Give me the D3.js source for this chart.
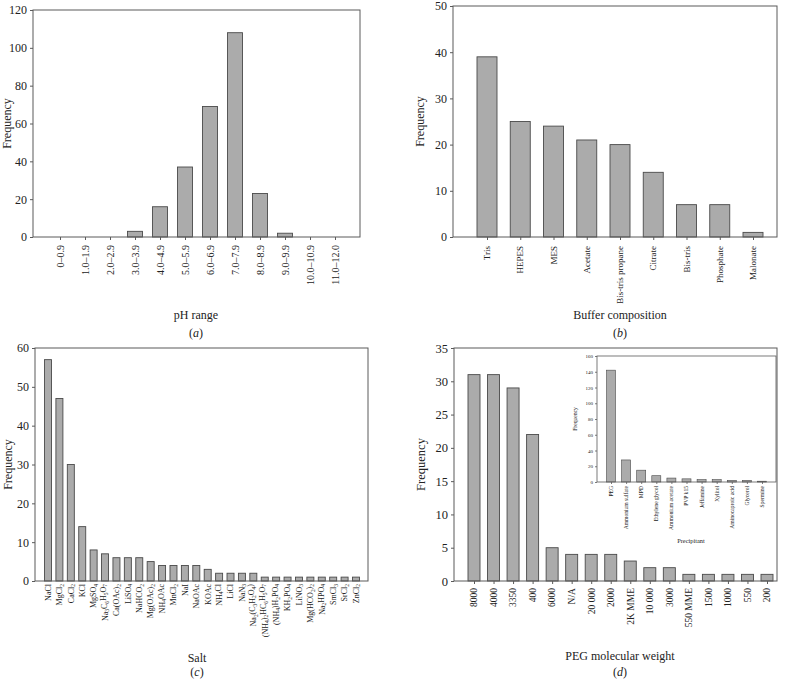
<!DOCTYPE html>
<html>
<head>
<meta charset="utf-8">
<script src="https://cdn.jsdelivr.net/npm/d3@7"></script>
<style>
  html, body { margin: 0; padding: 0; background: #fff; }
  svg { display: block; font-family: "Liberation Serif", "Times New Roman", serif; }
</style>
</head>
<body>
<svg id="chart" width="787" height="680"></svg>
<script>
// ---------- DATA ----------
const phCategories = ["0–0.9", "1.0–1.9", "2.0–2.9", "3.0–3.9", "4.0–4.9", "5.0–5.9", "6.0–6.9", "7.0–7.9", "8.0–8.9", "9.0–9.9", "10.0–10.9", "11.0–12.0"];
const phValues = [0, 0, 0, 3, 16, 37, 69, 108, 23, 2, 0, 0];
const phTicks = [0, 20, 40, 60, 80, 100, 120];

const bufferCategories = ["Tris", "HEPES", "MES", "Acetate", "Bis-tris propane", "Citrate", "Bis-tris", "Phosphate", "Malonate"];
const bufferValues = [39, 25, 24, 21, 20, 14, 7, 7, 1];
const bufferTicks = [0, 10, 20, 30, 40, 50];

// "_n" marks a subscript
const saltCategories = ["NaCl", "MgCl_2", "CaCl_2", "KCl", "MgSO_4", "Na_3C_6H_5O_7", "Ca(OAc)_2", "LiSO_4", "NaHCO_2", "Mg(OAc)_2", "NH_4OAc", "MnCl_2", "NaI", "NaOAc", "KOAc", "NH_4Cl", "LiCl", "NaN_3", "Na_2(C_3H_2O_4)", "(NH_4)_2HC_6H_5O_7", "(NH_4)H_2PO_4", "KH_2PO_4", "LiNO_3", "Mg(HCO_2)_2", "Na_2HPO_4", "SmCl_3", "SrCl_2", "ZnCl_2"];
const saltValues = [57, 47, 30, 14, 8, 7, 6, 6, 6, 5, 4, 4, 4, 4, 3, 2, 2, 2, 2, 1, 1, 1, 1, 1, 1, 1, 1, 1];
const saltTicks = [0, 10, 20, 30, 40, 50, 60];

const pegCategories = ["8000", "4000", "3350", "400", "6000", "N/A", "20 000", "2000", "2K MME", "10 000", "3000", "550 MME", "1500", "1000", "550", "200"];
const pegValues = [31, 31, 29, 22, 5, 4, 4, 4, 3, 2, 2, 1, 1, 1, 1, 1];
const pegTicks = [0, 5, 10, 15, 20, 25, 30, 35];

const precipCategories = ["PEG", "Ammonium sulfate", "MPD", "Ethylene glycol", "Ammonium acetate", "PVP k15", "Jeffamine", "Xylitol", "Aminocaproic acid", "Glycerol", "Spermine"];
const precipValues = [142, 28, 15, 8, 5, 4, 3, 3, 2, 2, 1];
const precipTicks = [0, 20, 40, 60, 80, 100, 120, 140, 160];

// ---------- DRAWING ----------
const svg = d3.select("#chart");
const BAR_FILL = "#ababab", BAR_STROKE = "#4a4a4a", FRAME = "#5a5a5a", TEXT = "#222";

function addRich(textSel, label, subSize) {
  const parts = label.split(/_(\d+)/);
  let sub = false;
  parts.forEach((p, i) => {
    if (p === "") return;
    const isSub = i % 2 === 1;
    const t = textSel.append("tspan").text(p);
    if (isSub) {
      t.attr("font-size", subSize).attr("dy", sub ? 0 : "0.28em");
      sub = true;
    } else if (sub) {
      t.attr("dy", "-0.28em");
      sub = false;
    }
  });
}

function panel(cfg) {
  const g = svg.append("g");
  const x = d3.scalePoint().domain(cfg.categories).range(cfg.centers);
  const y = d3.scaleLinear().domain([0, cfg.yMax]).range([cfg.box.y1, cfg.box.y0]);

  if (cfg.background) {
    g.append("rect").attr("x", cfg.box.x0).attr("y", cfg.box.y0)
      .attr("width", cfg.box.x1 - cfg.box.x0).attr("height", cfg.box.y1 - cfg.box.y0)
      .attr("fill", "#fff");
  }

  // bars
  g.append("g").selectAll("rect").data(cfg.values).join("rect")
    .attr("x", (d, i) => x(cfg.categories[i]) - cfg.barW / 2)
    .attr("width", cfg.barW)
    .attr("y", d => y(d))
    .attr("height", d => y(0) - y(d))
    .attr("fill", BAR_FILL)
    .attr("stroke", d => d > 0 ? BAR_STROKE : "none")
    .attr("stroke-width", cfg.barStroke || 0.9);

  // frame
  g.append("rect").attr("x", cfg.box.x0).attr("y", cfg.box.y0)
    .attr("width", cfg.box.x1 - cfg.box.x0).attr("height", cfg.box.y1 - cfg.box.y0)
    .attr("fill", "none").attr("stroke", FRAME).attr("stroke-width", cfg.frameW || 1);

  // y axis
  const ya = g.append("g").attr("transform", `translate(${cfg.box.x0},0)`)
    .call(d3.axisLeft(y).tickValues(cfg.ticks).tickSize(cfg.tickLen).tickPadding(cfg.tickPad).tickFormat(d3.format("d")));
  ya.select(".domain").remove();
  ya.selectAll("line").attr("stroke", FRAME).attr("stroke-width", cfg.frameW || 1);
  ya.selectAll("text").attr("font-size", cfg.tickFont).attr("fill", TEXT)
    .attr("font-family", "Liberation Serif, serif");

  // x ticks
  if (cfg.xTickLen > 0) {
    const xa = g.append("g").attr("transform", `translate(0,${cfg.box.y1})`)
      .call(d3.axisBottom(x).tickSize(cfg.xTickLen).tickFormat(""));
    xa.select(".domain").remove();
    xa.selectAll("line").attr("stroke", FRAME).attr("stroke-width", cfg.frameW || 1);
  }

  // category labels (rotated)
  g.append("g").selectAll("text").data(cfg.categories).join("text")
    .attr("transform", d => `translate(${x(d)},${cfg.box.y1 + cfg.labelGap}) rotate(-90)`)
    .attr("text-anchor", "end")
    .attr("dy", "0.35em")
    .attr("font-size", cfg.catFont)
    .attr("fill", TEXT)
    .each(function (d) { addRich(d3.select(this), d, cfg.catFont * 0.68); });

  // y label
  g.append("text")
    .attr("transform", `translate(${cfg.yLabelX},${(cfg.box.y0 + cfg.box.y1) / 2}) rotate(-90)`)
    .attr("text-anchor", "middle").attr("font-size", cfg.yLabelFont).attr("fill", TEXT)
    .text("Frequency");

  // x label
  g.append("text").attr("x", cfg.xLabelPos[0]).attr("y", cfg.xLabelPos[1])
    .attr("text-anchor", "middle").attr("font-size", cfg.xLabelFont).attr("fill", TEXT)
    .text(cfg.xLabel);

  if (cfg.tag) {
    const t = g.append("text").attr("x", cfg.tagPos[0]).attr("y", cfg.tagPos[1])
      .attr("text-anchor", "middle").attr("font-size", 12).attr("fill", TEXT);
    t.append("tspan").text("(");
    t.append("tspan").attr("font-style", "italic").text(cfg.tag);
    t.append("tspan").text(")");
  }
}

panel({
  categories: phCategories, values: phValues, ticks: phTicks, yMax: 120,
  box: { x0: 33, x1: 360, y0: 10, y1: 237 }, centers: [60, 335], barW: 15,
  tickLen: 3, tickPad: 3, tickFont: 12, xTickLen: 3, catFont: 10, labelGap: 8,
  yLabelX: 10.5, yLabelFont: 12, xLabel: "pH range", xLabelPos: [196, 319], xLabelFont: 12,
  tag: "a", tagPos: [196, 337]
});

panel({
  categories: bufferCategories, values: bufferValues, ticks: bufferTicks, yMax: 50,
  box: { x0: 453, x1: 777, y0: 6, y1: 237 }, centers: [487, 753], barW: 20,
  tickLen: 3, tickPad: 3, tickFont: 12, xTickLen: 3, catFont: 9, labelGap: 9,
  yLabelX: 424, yLabelFont: 12, xLabel: "Buffer composition", xLabelPos: [620, 319], xLabelFont: 12,
  tag: "b", tagPos: [620, 337]
});

panel({
  categories: saltCategories, values: saltValues, ticks: saltTicks, yMax: 60,
  box: { x0: 35, x1: 368, y0: 348, y1: 581 }, centers: [48, 356], barW: 7,
  tickLen: 3, tickPad: 3, tickFont: 12, xTickLen: 0, catFont: 8, labelGap: 3,
  yLabelX: 11.5, yLabelFont: 12, xLabel: "Salt", xLabelPos: [197, 662], xLabelFont: 12,
  tag: "c", tagPos: [197, 676]
});

panel({
  categories: pegCategories, values: pegValues, ticks: pegTicks, yMax: 35,
  box: { x0: 454, x1: 777, y0: 348, y1: 581 }, centers: [474, 767], barW: 12,
  tickLen: 3, tickPad: 3, tickFont: 12.5, xTickLen: 3, catFont: 9.5, labelGap: 7,
  yLabelX: 425, yLabelFont: 12.5, xLabel: "PEG molecular weight", xLabelPos: [620, 660], xLabelFont: 12,
  tag: "d", tagPos: [620, 676]
});

panel({
  categories: precipCategories, values: precipValues, ticks: precipTicks, yMax: 160,
  box: { x0: 597, x1: 776, y0: 356, y1: 482 }, centers: [611, 762], barW: 9, background: true,
  tickLen: 2, tickPad: 2, tickFont: 5, xTickLen: 2, catFont: 5.6, labelGap: 4, barStroke: 0.6, frameW: 0.8,
  yLabelX: 577, yLabelFont: 5.6, xLabel: "Precipitant", xLabelPos: [691, 543], xLabelFont: 6.4
});
</script>
</body>
</html>
